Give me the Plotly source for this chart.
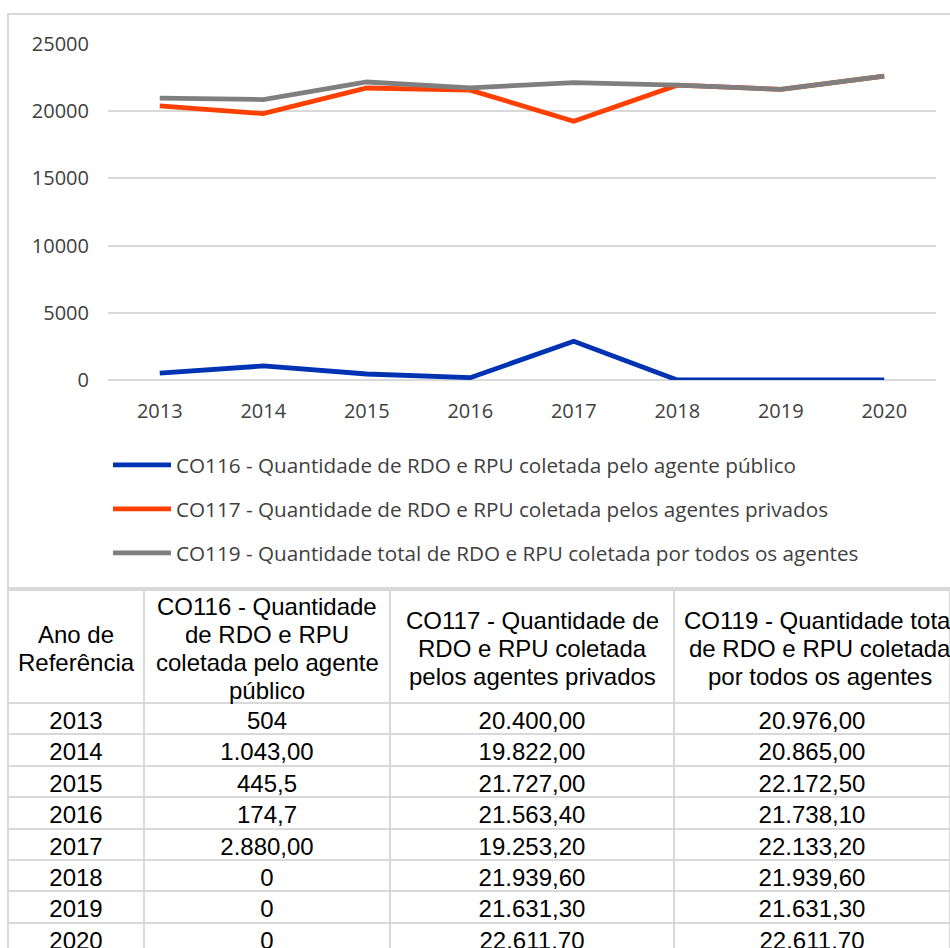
import plotly.graph_objects as go

# Reference years
years = ["2013", "2014", "2015", "2016", "2017", "2018", "2019", "2020"]

# Collected household/public waste (RDO + RPU), tonnes
co116_publico = [504, 1043.00, 445.5, 174.7, 2880.00, 0, 0, 0]
co117_privados = [20400.00, 19822.00, 21727.00, 21563.40, 19253.20, 21939.60, 21631.30, 22611.70]
co119_total = [20976.00, 20865.00, 22172.50, 21738.10, 22133.20, 21939.60, 21631.30, 22611.70]

# Decimal places as printed in the table for each column
co116_decimais = [0, 2, 1, 1, 2, 0, 0, 0]
co117_decimais = [2] * 8
co119_decimais = [2] * 8

series_names = [
    "CO116 - Quantidade de RDO e RPU coletada pelo agente público",
    "CO117 - Quantidade de RDO e RPU coletada pelos agentes privados",
    "CO119 - Quantidade total de RDO e RPU coletada por todos os agentes",
]
header_lines = [
    ["Ano de", "Referência"],
    ["CO116 - Quantidade", "de RDO e RPU", "coletada pelo agente", "público"],
    ["CO117 - Quantidade de", "RDO e RPU coletada", "pelos agentes privados"],
    ["CO119 - Quantidade total", "de RDO e RPU coletada", "por todos os agentes"],
]

series_colors = ["#0033b4", "#ff4000", "#7f7f7f"]
grid_color = "#d9d9d9"
table_font = dict(family="Liberation Sans, Arial", size=24, color="black")


def fmt_br(value, decimals):
    """Brazilian number format: '.' thousands separator, ',' decimal mark."""
    s = f"{value:,.{decimals}f}"
    return s.replace(",", "X").replace(".", ",").replace("X", ".")


W, H = 950, 948


def px_x(x):
    return x / W


def px_y(y):
    return 1 - y / H


# Table geometry (pixels)
table_left, table_top = 8, 590
header_h, row_h = 113, 31.4
col_widths = [136, 246, 284, 292]          # last column runs past the page edge
visible_widths = col_widths[:-1] + [W - table_left - sum(col_widths[:-1])]

fig = go.Figure()

for name, vals, color in zip(series_names, [co116_publico, co117_privados, co119_total], series_colors):
    fig.add_trace(go.Scatter(
        x=years, y=vals, name=name, mode="lines",
        line=dict(color=color, width=4.8),
        legendgroup=name,
        xaxis="x", yaxis="y",
    ))

fig.add_trace(go.Table(
    domain=dict(x=[px_x(table_left), 1.0], y=[0.0, px_y(table_top)]),
    columnwidth=visible_widths,
    header=dict(
        values=["", "", "", ""],
        height=header_h,
        line=dict(color=grid_color, width=2),
        fill=dict(color="white"),
        font=table_font,
    ),
    cells=dict(
        values=[
            years,
            [fmt_br(v, d) for v, d in zip(co116_publico, co116_decimais)],
            [fmt_br(v, d) for v, d in zip(co117_privados, co117_decimais)],
            [fmt_br(v, d) for v, d in zip(co119_total, co119_decimais)],
        ],
        align="center",
        height=row_h,
        line=dict(color=grid_color, width=2),
        fill=dict(color="white"),
        font=table_font,
    ),
))

# Header captions, centred line by line in each column
annotations = []
header_mid = table_top + header_h / 2 + 1.5
line_gap = 28
left = table_left
for width, lines in zip(col_widths, header_lines):
    cx = left + width / 2
    n = len(lines)
    for i, txt in enumerate(lines):
        cy = header_mid + (i - (n - 1) / 2) * line_gap
        annotations.append(dict(
            text=txt, xref="paper", yref="paper",
            x=px_x(cx), y=px_y(cy), xanchor="center", yanchor="middle",
            showarrow=False, font=table_font,
        ))
    left += width

fig.update_layout(
    width=W, height=H,
    margin=dict(l=0, r=0, t=0, b=0, autoexpand=False),
    paper_bgcolor="white", plot_bgcolor="white",
    font=dict(family="Open Sans", size=20, color="#404040"),
    xaxis=dict(
        domain=[px_x(108), px_x(936)],
        type="category", range=[-0.5, 7.5],
        showgrid=False, showline=False, zeroline=False,
        ticks="", ticklabelstandoff=17, automargin=False,
        tickfont=dict(family="Open Sans", size=20, color="#404040"),
    ),
    yaxis=dict(
        domain=[px_y(380), px_y(44)],
        range=[0, 25000], dtick=5000,
        showgrid=True, gridcolor=grid_color, gridwidth=2,
        zeroline=True, zerolinecolor=grid_color, zerolinewidth=2,
        showline=False, ticks="", ticklabelstandoff=18, automargin=False,
        tickformat="d",
        tickfont=dict(family="Open Sans", size=20, color="#404040"),
    ),
    legend=dict(
        x=px_x(108), xanchor="left",
        y=px_y(445), yanchor="top",
        orientation="v",
        tracegroupgap=14,
        itemwidth=58,
        font=dict(family="Open Sans", size=20.7, color="#404040"),
        bgcolor="rgba(0,0,0,0)",
    ),
    annotations=annotations,
    shapes=[dict(
        type="rect", xref="paper", yref="paper",
        x0=px_x(8), x1=1.02, y0=px_y(588), y1=px_y(14),
        line=dict(color=grid_color, width=2), fillcolor="rgba(0,0,0,0)",
        layer="below",
    )],
)

fig.write_html("out.html")
